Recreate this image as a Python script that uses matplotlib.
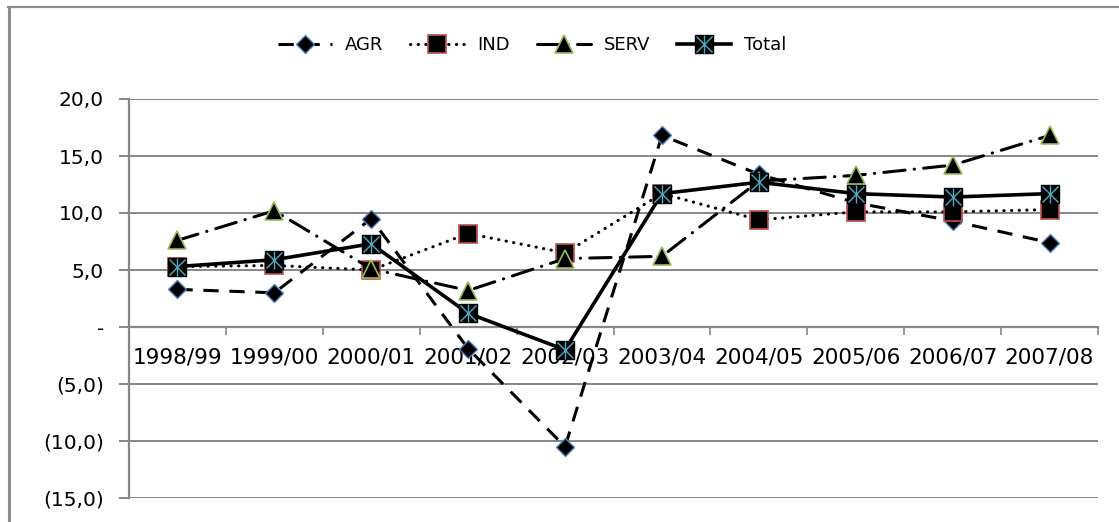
import matplotlib
matplotlib.use("Agg")
import matplotlib.pyplot as plt
from matplotlib.lines import Line2D
from matplotlib.legend_handler import HandlerTuple
from matplotlib.ticker import FuncFormatter, FixedLocator

plt.rcParams['font.family'] = ['DejaVu Sans']

# data
years = ["1998/99", "1999/00", "2000/01", "2001/02", "2002/03",
         "2003/04", "2004/05", "2005/06", "2006/07", "2007/08"]
agr = [3.3, 3.0, 9.5, -1.9, -10.5, 16.8, 13.4, 10.9, 9.3, 7.4]
ind = [5.3, 5.4, 5.0, 8.2, 6.5, 11.7, 9.4, 10.1, 10.1, 10.3]
serv = [7.6, 10.2, 5.1, 3.2, 6.0, 6.2, 12.8, 13.3, 14.2, 16.8]
total = [5.3, 5.9, 7.3, 1.2, -2.0, 11.7, 12.7, 11.7, 11.4, 11.7]

grey = "#868686"

fig = plt.figure(figsize=(11.19, 5.22), dpi=100)
ax = fig.add_axes([129 / 1119, 1 - 498 / 522, (1098 - 129) / 1119, (498 - 99) / 522])

x = list(range(len(years)))
lw = 2.2

h_agr, = ax.plot(x, agr, color="black", lw=lw, linestyle=(0, (5, 3.5)),
                 dash_capstyle="butt", marker="D", markersize=9.5,
                 markerfacecolor="black", markeredgecolor="#4F81BD", markeredgewidth=1)
h_ind, = ax.plot(x, ind, color="black", lw=lw, linestyle=(0, (0.1, 2.4)),
                 dash_capstyle="round", marker="s", markersize=13.5,
                 markerfacecolor="black", markeredgecolor="#C0504D", markeredgewidth=1.2)
h_serv, = ax.plot(x, serv, color="black", lw=lw, linestyle=(0, (7, 3, 0.1, 3)),
                  dash_capstyle="round", marker="^", markersize=13.5,
                  markerfacecolor="black", markeredgecolor="#9BBB59", markeredgewidth=1.2)
h_tot, = ax.plot(x, total, color="black", lw=2.6, linestyle="-",
                 marker="s", markersize=13, markerfacecolor="black",
                 markeredgecolor="black", zorder=3)
h_tx, = ax.plot(x, total, linestyle="none", marker="x", markersize=11,
                markeredgecolor="#4BACC6", markeredgewidth=1, zorder=4)
h_tv, = ax.plot(x, total, linestyle="none", marker="|", markersize=13,
                markeredgecolor="#4BACC6", markeredgewidth=1, zorder=4)

ax.set_xlim(-0.5, len(years) - 0.5)
ax.set_ylim(-15, 20)
ax.set_yticks([-15, -10, -5, 0, 5, 10, 15, 20])


def fmt(v, pos):
    if abs(v) < 1e-9:
        return "-"
    s = f"{abs(v):.1f}".replace(".", ",")
    return f"({s})" if v < 0 else s


ax.yaxis.set_major_formatter(FuncFormatter(fmt))
ax.yaxis.grid(True, color=grey, lw=1.4)
ax.set_axisbelow(True)

for s in ["top", "right"]:
    ax.spines[s].set_visible(False)
ax.spines["left"].set_color(grey)
ax.spines["left"].set_linewidth(1.6)
ax.spines["bottom"].set_position(("data", 0))
ax.spines["bottom"].set_color(grey)
ax.spines["bottom"].set_linewidth(1.6)

ax.set_xticks(x)
ax.set_xticklabels(years)
ax.xaxis.set_minor_locator(FixedLocator([i - 0.5 for i in range(len(years) + 1)]))
ax.tick_params(axis="x", which="major", length=0, pad=15, labelsize=15.5)
ax.tick_params(axis="x", which="minor", length=6, width=1.2, color=grey, direction="out")
ax.tick_params(axis="y", length=7, width=1.4, color=grey, labelsize=14.5, pad=11)

fig.legend([h_agr, h_ind, h_serv, (h_tot, h_tx, h_tv)], ["AGR", "IND", "SERV", "Total"],
           loc="center", bbox_to_anchor=(532 / 1119, 1 - 45 / 522), ncol=4,
           frameon=False, fontsize=13, handlelength=3.0, handletextpad=0.7,
           columnspacing=1.5, handler_map={tuple: HandlerTuple(ndivide=1)})

# outer chart border (top and left)
fig.add_artist(Line2D([8 / 1119, 1], [1 - 7 / 522, 1 - 7 / 522],
                      transform=fig.transFigure, color="#8c8c8c", lw=1.6))
fig.add_artist(Line2D([9 / 1119, 9 / 1119], [0, 1 - 7 / 522],
                      transform=fig.transFigure, color="#8c8c8c", lw=2.2))

plt.savefig("out.png", dpi=100)
